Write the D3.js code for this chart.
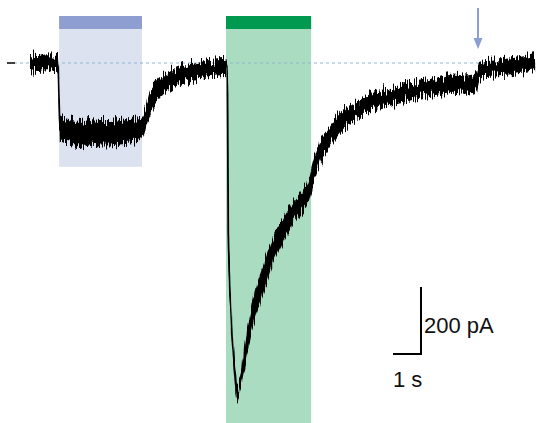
<!DOCTYPE html>
<html><head><meta charset="utf-8">
<script src="https://cdn.jsdelivr.net/npm/d3@7"></script>
<style>html,body{margin:0;padding:0;background:#fff;}svg{display:block;}</style>
</head><body>
<svg id="chart" width="536" height="423"></svg>
<script>
// time (s)
const times = [0, 0.3, 0.6, 1.0, 1.04, 1.07, 1.43, 1.8, 2.14, 2.5, 2.86, 3.2, 3.57, 3.93, 4.04, 4.29, 4.54, 4.75, 5.0, 5.46, 5.96, 6.43, 6.96, 7.04, 7.06, 7.08, 7.21, 7.32, 7.39, 7.5, 7.68, 7.96, 8.32, 8.68, 9.04, 9.39, 9.75, 9.96, 10.1, 10.36, 10.71, 11.07, 11.54, 12.14, 12.75, 13.32, 13.93, 14.54, 15.11, 15.5, 15.82, 15.96, 16.04, 16.32, 16.89, 17.5, 18.04];
// mean current (pA)
const current = [0, -3, 2, 0, -120, -196, -206, -214, -208, -211, -211, -205, -202, -197, -185, -119, -81, -64, -51, -33, -24, -15, -12, -12, -150, -498, -797, -925, -997, -960, -872, -746, -648, -558, -498, -448, -409, -379, -334, -266, -221, -179, -149, -119, -101, -90, -81, -72, -60, -63, -60, -51, -21, -15, -12, -6, 3];
// noise half-width (pA)
const noise = [24, 24, 24, 24, 6, 36, 38, 38, 38, 38, 38, 38, 38, 36, 30, 36, 32, 28, 26, 24, 24, 24, 24, 6, 3, 3, 6, 14, 18, 22, 34, 42, 42, 40, 36, 32, 30, 32, 34, 34, 30, 28, 26, 26, 26, 26, 26, 26, 26, 26, 26, 24, 24, 24, 24, 24, 24];
// stimulation windows (s)
const stimStart = [1.04, 7.0];
const stimEnd = [4.0, 10.04];
const stimLow = [-310, -1080];
const stimBar = ["#8f9ed0", "#00994f"];
const stimFill = ["#dde2f1", "#a9dcc1"];
const arrowTime = 16.0;
const scaleTime = 1;      // s
const scaleCurrent = 200; // pA
const scaleLabels = ["200 pA", "1 s"];

const svg = d3.select("#chart");
const x = d3.scaleLinear().domain([0, 18]).range([30, 534]);
const y = d3.scaleLinear().domain([0, -1000]).range([63, 398]);

const defs = svg.append("defs");
const f = defs.append("filter").attr("id", "jag")
  .attr("x", -0.05).attr("y", -0.1).attr("width", 1.1).attr("height", 1.2);
f.append("feTurbulence").attr("type", "fractalNoise")
  .attr("baseFrequency", "0.9 0.04").attr("numOctaves", 2).attr("seed", 3).attr("result", "n");
f.append("feColorMatrix").attr("in", "n").attr("type", "matrix")
  .attr("values", "0 0 0 0 0.5  0 1 0 0 0  0 0 1 0 0  0 0 0 0 1").attr("result", "m");
f.append("feDisplacementMap").attr("in", "SourceGraphic").attr("in2", "m")
  .attr("scale", 22).attr("xChannelSelector", "R").attr("yChannelSelector", "G");

// stimulation boxes
const stims = d3.range(stimStart.length);
svg.selectAll("rect.fill").data(stims).join("rect").attr("class", "fill")
  .attr("x", i => x(stimStart[i])).attr("width", i => x(stimEnd[i]) - x(stimStart[i]))
  .attr("y", 16).attr("height", i => y(stimLow[i]) - 16)
  .attr("fill", i => stimFill[i]);
svg.selectAll("rect.bar").data(stims).join("rect").attr("class", "bar")
  .attr("x", i => x(stimStart[i])).attr("width", i => x(stimEnd[i]) - x(stimStart[i]))
  .attr("y", 16).attr("height", 13)
  .attr("fill", i => stimBar[i]);

// baseline
svg.append("line").attr("x1", 14).attr("x2", 536).attr("y1", y(0)).attr("y2", y(0))
  .attr("stroke", "#8fb6cf").attr("stroke-width", 1).attr("stroke-dasharray", "3,3");
svg.append("line").attr("x1", 7).attr("x2", 15).attr("y1", y(0)).attr("y2", y(0))
  .attr("stroke", "#000").attr("stroke-width", 1.5);

// trace
const idx = d3.range(times.length);
const area = d3.area().x(i => x(times[i]))
  .y0(i => y(current[i] - noise[i])).y1(i => y(current[i] + noise[i]))
  .curve(d3.curveMonotoneX);
const line = d3.line().x(i => x(times[i])).y(i => y(current[i])).curve(d3.curveMonotoneX);
const g = svg.append("g").attr("filter", "url(#jag)");
g.append("path").datum(idx).attr("d", area).attr("fill", "#000");
g.append("path").datum(idx).attr("d", line).attr("fill", "none").attr("stroke", "#000").attr("stroke-width", 1.8);

// arrow
const ax = x(arrowTime);
svg.append("line").attr("x1", ax).attr("x2", ax).attr("y1", 8).attr("y2", 40)
  .attr("stroke", "#8b9ed6").attr("stroke-width", 2);
svg.append("path").attr("d", `M${ax - 4.5},38 L${ax + 4.5},38 L${ax},49 Z`).attr("fill", "#8b9ed6");

// scale bar
const sx = 421, sy = 354;
const sbH = y(-scaleCurrent) - y(0);
const sbW = x(scaleTime) - x(0);
svg.append("path").attr("d", `M${sx - sbW},${sy} L${sx},${sy} L${sx},${sy - sbH}`)
  .attr("fill", "none").attr("stroke", "#000").attr("stroke-width", 2);
svg.append("text").attr("x", sx + 3).attr("y", 333).text(scaleLabels[0])
  .attr("font-family", "Liberation Sans, Arial, sans-serif").attr("font-size", 22).attr("fill", "#111");
svg.append("text").attr("x", sx - sbW).attr("y", 387).text(scaleLabels[1])
  .attr("font-family", "Liberation Sans, Arial, sans-serif").attr("font-size", 22).attr("fill", "#111");
</script>
</body></html>
